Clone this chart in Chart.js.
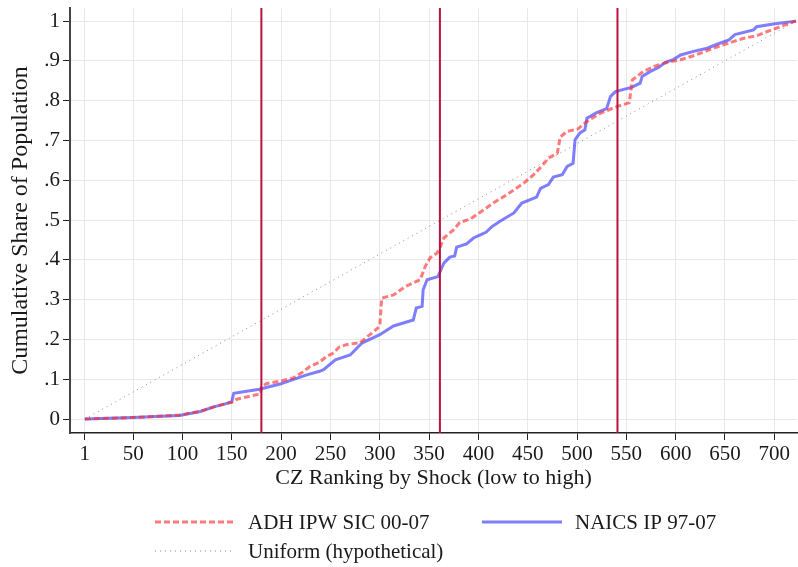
<!DOCTYPE html>
<html>
<head>
<meta charset="utf-8">
<script src="https://cdn.jsdelivr.net/npm/chart.js@4"></script>
<style>
  body { margin: 0; background: #fff; }
  #wrap { width: 798px; height: 567px; }
</style>
</head>
<body>
<div id="wrap"><canvas id="cdf" width="798" height="567"></canvas></div>
<script>
// CZ rank (x) and cumulative population share (y)
const adhRank  = [1, 50, 97, 118, 131, 146, 150, 155, 175, 179, 180, 185, 199, 212, 222, 229, 239, 246, 253, 259, 266, 280, 290, 300, 302, 314, 326, 341, 346, 351, 358, 361, 365, 375, 381, 392, 402, 415, 429, 446, 456, 464, 471, 480, 483, 490, 501, 510, 524, 540, 553, 556, 567, 578, 591, 605, 618, 632, 645, 659, 669, 682, 693, 706, 720, 722];
const adhShare = [0, 0.004, 0.010, 0.019, 0.030, 0.040, 0.042, 0.050, 0.061, 0.063, 0.080, 0.089, 0.095, 0.103, 0.118, 0.132, 0.143, 0.157, 0.166, 0.181, 0.187, 0.192, 0.212, 0.233, 0.304, 0.312, 0.333, 0.350, 0.383, 0.405, 0.417, 0.430, 0.455, 0.476, 0.494, 0.503, 0.520, 0.543, 0.564, 0.593, 0.614, 0.635, 0.656, 0.668, 0.709, 0.723, 0.729, 0.748, 0.769, 0.785, 0.795, 0.852, 0.873, 0.886, 0.896, 0.903, 0.913, 0.926, 0.938, 0.949, 0.957, 0.963, 0.974, 0.986, 0.999, 1.0];

const naicsRank  = [1, 50, 97, 118, 131, 146, 150, 152, 178, 199, 212, 226, 239, 243, 255, 270, 282, 300, 314, 334, 337, 343, 344, 348, 359, 365, 371, 376, 378, 388, 395, 402, 408, 414, 422, 436, 444, 459, 463, 471, 476, 485, 490, 496, 498, 503, 508, 510, 520, 530, 534, 539, 556, 564, 566, 574, 583, 589, 598, 605, 618, 632, 640, 654, 660, 679, 682, 699, 722];
const naicsShare = [0, 0.004, 0.009, 0.019, 0.030, 0.040, 0.044, 0.065, 0.075, 0.088, 0.099, 0.111, 0.120, 0.124, 0.149, 0.161, 0.191, 0.212, 0.234, 0.249, 0.279, 0.283, 0.325, 0.350, 0.358, 0.392, 0.407, 0.410, 0.432, 0.440, 0.455, 0.463, 0.470, 0.484, 0.497, 0.518, 0.543, 0.558, 0.580, 0.589, 0.608, 0.614, 0.635, 0.643, 0.702, 0.719, 0.727, 0.756, 0.770, 0.780, 0.811, 0.823, 0.834, 0.844, 0.861, 0.873, 0.884, 0.896, 0.904, 0.915, 0.924, 0.932, 0.940, 0.953, 0.966, 0.978, 0.986, 0.993, 1.0];

const uniformRank  = [1, 722];
const uniformShare = [0, 1];

const cutoffs = [180, 361, 541];

const xTicks = [1, 50, 100, 150, 200, 250, 300, 350, 400, 450, 500, 550, 600, 650, 700];
const yTicks = [0, 0.1, 0.2, 0.3, 0.4, 0.5, 0.6, 0.7, 0.8, 0.9, 1];
const yTickLabels = ['0', '.1', '.2', '.3', '.4', '.5', '.6', '.7', '.8', '.9', '1'];

const xMin = -14, xMax = 723;
const yMin = -0.035, yMax = 1.033;

const FONT = "'Liberation Serif', 'Times New Roman', serif";
const RED = 'rgba(255, 40, 40, 0.62)';
const BLUE = 'rgba(40, 40, 255, 0.6)';
const CRANBERRY = '#b8123e';

function pts(xs, ys) {
    return xs.map((x, i) => ({ x: x, y: ys[i] }));
}

const cutoffSets = cutoffs.map(c => ({
    label: 'cutoff',
    data: [{ x: c, y: yMin }, { x: c, y: yMax }],
    borderColor: CRANBERRY,
    borderWidth: 2,
    pointRadius: 0
}));

const datasets = [
    ...cutoffSets,
    {
        label: 'ADH IPW SIC 00-07',
        data: pts(adhRank, adhShare),
        borderColor: RED,
        borderWidth: 3,
        borderDash: [6, 3],
        pointRadius: 0,
        tension: 0
    },
    {
        label: 'NAICS IP 97-07',
        data: pts(naicsRank, naicsShare),
        borderColor: BLUE,
        borderWidth: 3,
        pointRadius: 0,
        tension: 0
    },
    {
        label: 'Uniform (hypothetical)',
        data: pts(uniformRank, uniformShare),
        borderColor: '#8a8a8a',
        borderWidth: 1,
        borderDash: [1, 4],
        pointRadius: 0
    }
];

// legend laid out like the Stata one: two columns, two rows, under the axis title
const legendPlugin = {
    id: 'stataLegend',
    afterDraw(chart) {
        const ctx = chart.ctx;
        const items = [
            { ds: datasets[3], x: 155, y: 522 },
            { ds: datasets[4], x: 482, y: 522 },
            { ds: datasets[5], x: 155, y: 551 }
        ];
        ctx.save();
        items.forEach(it => {
            ctx.beginPath();
            ctx.strokeStyle = it.ds.borderColor;
            ctx.lineWidth = it.ds.borderWidth;
            ctx.setLineDash(it.ds.borderDash || []);
            ctx.moveTo(it.x, it.y);
            ctx.lineTo(it.x + 80, it.y);
            ctx.stroke();
            ctx.setLineDash([]);
            ctx.fillStyle = '#1a1a1a';
            ctx.font = '21px ' + FONT;
            ctx.textBaseline = 'middle';
            ctx.textAlign = 'left';
            ctx.fillText(it.ds.label, it.x + 93, it.y + 1);
        });
        ctx.restore();
    }
};

new Chart(document.getElementById('cdf'), {
    type: 'line',
    data: { datasets: datasets },
    plugins: [legendPlugin],
    options: {
        responsive: false,
        animation: false,
        layout: { padding: { left: 0, right: 1, top: 8, bottom: 74 } },
        plugins: {
            legend: { display: false },
            tooltip: { enabled: false }
        },
        scales: {
            x: {
                type: 'linear',
                min: xMin,
                max: xMax,
                afterBuildTicks: scale => { scale.ticks = xTicks.map(v => ({ value: v })); },
                afterFit: scale => {
                    scale.height = 60;
                    scale.paddingLeft = 0;
                    scale.paddingRight = 0;
                },
                ticks: {
                    autoSkip: false,
                    maxRotation: 0,
                    padding: 2,
                    color: '#1a1a1a',
                    font: { family: FONT, size: 21 },
                    callback: v => String(v)
                },
                grid: { color: '#e8e8e8', lineWidth: 1, tickColor: '#222', tickLength: 7 },
                border: { color: '#222', width: 1.5 },
                title: {
                    display: true,
                    text: 'CZ Ranking by Shock (low to high)',
                    color: '#1a1a1a',
                    font: { family: FONT, size: 22 },
                    padding: { top: 0, bottom: 2 }
                }
            },
            y: {
                min: yMin,
                max: yMax,
                afterBuildTicks: scale => { scale.ticks = yTicks.map(v => ({ value: v })); },
                afterFit: scale => {
                    scale.width = 70;
                    scale.paddingTop = 0;
                    scale.paddingBottom = 0;
                },
                ticks: {
                    padding: 3,
                    color: '#1a1a1a',
                    font: { family: FONT, size: 21 },
                    callback: v => yTickLabels[yTicks.findIndex(t => Math.abs(t - v) < 1e-9)]
                },
                grid: { color: '#e8e8e8', lineWidth: 1, tickColor: '#222', tickLength: 7 },
                border: { color: '#444', width: 2 },
                title: {
                    display: true,
                    text: 'Cumulative Share of Population',
                    color: '#1a1a1a',
                    font: { family: FONT, size: 24 },
                    padding: { top: 6, bottom: 0 }
                }
            }
        }
    }
});
</script>
</body>
</html>
